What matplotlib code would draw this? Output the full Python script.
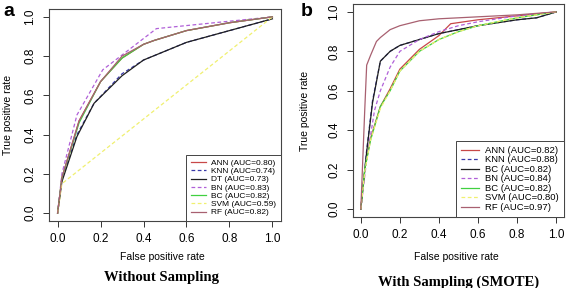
import matplotlib
matplotlib.use('Agg')
import matplotlib.pyplot as plt

plt.rcParams['font.family'] = ['Liberation Sans', 'DejaVu Sans']

# ---- panel a : without sampling ----
a_names = ['ANN (AUC=0.80)', 'KNN (AUC=0.74)', 'DT (AUC=0.73)', 'BN (AUC=0.83)',
           'BC (AUC=0.82)', 'SVM (AUC=0.59)', 'RF (AUC=0.82)']
a_fpr = {
    'ANN': [0, 0.02, 0.1, 0.2, 0.3, 0.4, 0.45, 0.6, 0.8, 1.0],
    'KNN': [0, 0.02, 0.09, 0.17, 0.3, 0.4, 0.6, 0.8, 1.0],
    'DT':  [0, 0.02, 0.09, 0.17, 0.3, 0.4, 0.6, 0.8, 1.0],
    'BN':  [0, 0.02, 0.09, 0.21, 0.46, 1.0],
    'BC':  [0, 0.02, 0.1, 0.2, 0.3, 0.4, 0.45, 0.6, 0.8, 1.0],
    'SVM': [0, 0.02, 1.0],
    'RF':  [0, 0.02, 0.1, 0.2, 0.3, 0.4, 0.45, 0.6, 0.8, 1.0],
}
a_tpr = {
    'ANN': [0, 0.18, 0.47, 0.67, 0.79, 0.86, 0.88, 0.93, 0.97, 1.0],
    'KNN': [0, 0.17, 0.40, 0.56, 0.71, 0.78, 0.87, 0.93, 0.99],
    'DT':  [0, 0.16, 0.39, 0.56, 0.70, 0.78, 0.87, 0.93, 0.99],
    'BN':  [0, 0.20, 0.50, 0.73, 0.94, 1.0],
    'BC':  [0, 0.18, 0.46, 0.67, 0.79, 0.86, 0.88, 0.93, 0.97, 1.0],
    'SVM': [0, 0.15, 1.0],
    'RF':  [0, 0.18, 0.47, 0.67, 0.80, 0.86, 0.88, 0.93, 0.97, 1.0],
}

# ---- panel b : with sampling (SMOTE) ----
b_names = ['ANN (AUC=0.82)', 'KNN (AUC=0.88)', 'BC (AUC=0.82)', 'BN (AUC=0.84)',
           'BC (AUC=0.82)', 'SVM (AUC=0.80)', 'RF (AUC=0.97)']
b_fpr = {
    'ANN': [0, 0.02, 0.05, 0.1, 0.15, 0.2, 0.3, 0.4, 0.46, 0.6, 0.8, 1.0],
    'KNN': [0, 0.03, 0.06, 0.1, 0.15, 0.2, 0.3, 0.4, 0.6, 0.8, 0.9, 1.0],
    'BC2': [0, 0.03, 0.06, 0.1, 0.15, 0.2, 0.3, 0.4, 0.6, 0.8, 0.9, 1.0],
    'BN':  [0, 0.03, 0.07, 0.1, 0.15, 0.2, 0.3, 0.4, 0.5, 0.6, 0.8, 1.0],
    'BC':  [0, 0.02, 0.05, 0.1, 0.15, 0.2, 0.3, 0.4, 0.5, 0.6, 0.8, 1.0],
    'SVM': [0, 0.02, 0.05, 0.1, 0.15, 0.2, 0.3, 0.4, 0.5, 0.6, 0.8, 1.0],
    'RF':  [0, 0.02, 0.03, 0.05, 0.08, 0.1, 0.15, 0.2, 0.3, 0.4, 0.6, 0.8, 1.0],
}
b_tpr = {
    'ANN': [0, 0.20, 0.36, 0.52, 0.61, 0.71, 0.81, 0.88, 0.94, 0.96, 0.98, 1.0],
    'KNN': [0, 0.30, 0.55, 0.75, 0.80, 0.83, 0.86, 0.89, 0.93, 0.96, 0.97, 1.0],
    'BC2': [0, 0.29, 0.54, 0.75, 0.80, 0.83, 0.86, 0.89, 0.93, 0.96, 0.97, 1.0],
    'BN':  [0, 0.25, 0.50, 0.60, 0.72, 0.80, 0.86, 0.90, 0.93, 0.95, 0.98, 1.0],
    'BC':  [0, 0.20, 0.35, 0.52, 0.60, 0.70, 0.80, 0.86, 0.90, 0.93, 0.97, 1.0],
    'SVM': [0, 0.19, 0.35, 0.51, 0.60, 0.70, 0.80, 0.86, 0.90, 0.93, 0.97, 1.0],
    'RF':  [0, 0.50, 0.73, 0.78, 0.85, 0.87, 0.91, 0.93, 0.955, 0.965, 0.975, 0.985, 1.0],
}

colors = {'ANN': '#c84848', 'KNN': '#3a3aa8', 'DT': '#202020', 'BC2': '#202020',
          'BN': '#b060d8', 'BC': '#40d040', 'SVM': '#f0f070', 'RF': '#a86070'}
styles = {'ANN': '-', 'KNN': '--', 'DT': '-', 'BC2': '-', 'BN': '--', 'BC': '-',
          'SVM': '--', 'RF': '-'}

fig = plt.figure(figsize=(5.67, 2.88), dpi=100)
ax_a = fig.add_axes([49 / 567, 67 / 288, 232 / 567, 212 / 288])
ax_b = fig.add_axes([353 / 567, 71 / 288, 211 / 567, 213 / 288])


def draw(ax, keys, names, fpr, tpr, leg_size, ylab_x, xlab_y):
    for k, name in zip(keys, names):
        ls = styles[k]
        ax.plot(fpr[k], tpr[k], color=colors[k], linestyle=ls, lw=0.9,
                dashes=(3, 2) if ls == '--' else (None, None), label=name)
    ax.set_xlim(-0.04, 1.04)
    ax.set_ylim(-0.04, 1.04)
    ticks = [0.0, 0.2, 0.4, 0.6, 0.8, 1.0]
    ax.set_xticks(ticks)
    ax.set_yticks(ticks)
    ax.set_xticklabels(['%.1f' % t for t in ticks], fontsize=8.5)
    ax.set_yticklabels(['%.1f' % t for t in ticks], fontsize=8.5, rotation=90, va='center')
    ax.tick_params(length=4, width=0.7, color='#333333', pad=5)
    for s in ax.spines.values():
        s.set_linewidth(0.8)
        s.set_color('#444444')
    ax.set_xlabel('False positive rate', fontsize=7.5)
    ax.set_ylabel('True positive rate', fontsize=7.5)
    ax.xaxis.set_label_coords(0.49, xlab_y)
    ax.yaxis.set_label_coords(ylab_x, 0.5)
    leg = ax.legend(loc='lower right', fontsize=leg_size, frameon=True, fancybox=False,
                    edgecolor='#444444', framealpha=1, borderaxespad=0,
                    handlelength=1.9, labelspacing=0.05, borderpad=0.55,
                    handletextpad=0.6)
    leg.get_frame().set_linewidth(0.7)


draw(ax_a, ['ANN', 'KNN', 'DT', 'BN', 'BC', 'SVM', 'RF'], a_names, a_fpr, a_tpr,
     6.0, -0.155, -0.146)
draw(ax_b, ['ANN', 'KNN', 'BC2', 'BN', 'BC', 'SVM', 'RF'], b_names, b_fpr, b_tpr,
     6.8, -0.204, -0.164)

fig.text(3 / 567, 1 - 11 / 288, 'a', fontsize=14, fontweight='bold', va='center')
fig.text(301 / 567, 1 - 11 / 288, 'b', fontsize=14, fontweight='bold', va='center')
fig.text(162 / 567, 1 - 277 / 288, 'Without Sampling', fontsize=10.5, fontweight='bold',
         family='Liberation Serif', ha='center', va='center')
fig.text(459 / 567, 1 - 282 / 288, 'With Sampling (SMOTE)', fontsize=10.5, fontweight='bold',
         family='Liberation Serif', ha='center', va='center')

fig.savefig('out.png', dpi=100)
